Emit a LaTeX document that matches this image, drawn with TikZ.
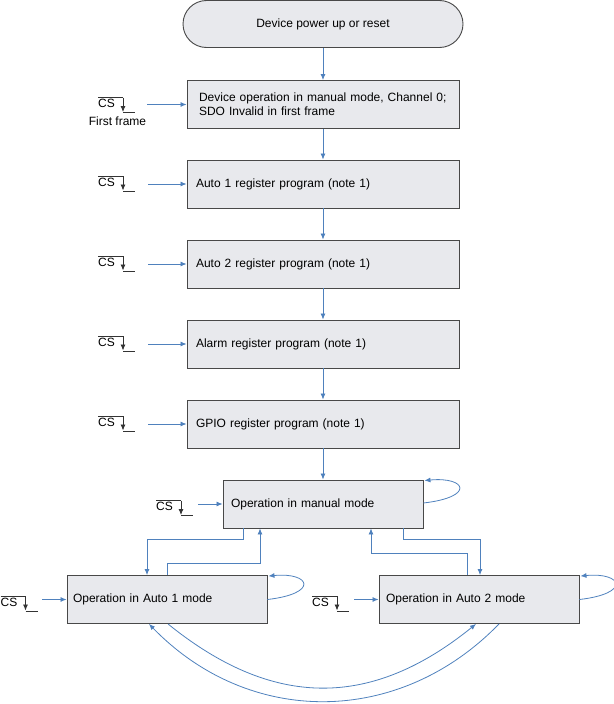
\documentclass[tikz,border=0pt]{standalone}
\usepackage{fontspec}
\setmainfont{Liberation Sans}
\usetikzlibrary{arrows.meta,calc}
\definecolor{flowblue}{RGB}{79,129,189}
\definecolor{boxfill}{RGB}{232,233,237}
\definecolor{boxline}{RGB}{72,72,72}
\tikzset{
	procbox/.style={draw=boxline, line width=0.9pt, fill=boxfill, minimum height=48pt, inner xsep=7pt, text width=#1, align=left, font=\fontsize{12}{14}\selectfont},
	termbox/.style={draw=boxline, line width=0.9pt, fill=boxfill, rounded corners=23.5pt, minimum width=280pt, minimum height=47pt, font=\fontsize{12}{14}\selectfont},
	flow/.style={draw=flowblue, line width=0.8pt, -{Latex[length=6pt,width=5pt]}},
	wave/.style={draw=black!80, line width=0.8pt}
}
% chip select falling edge: #1 = left end of the bar
\newcommand{\csedge}[1]{
	\node[anchor=north west, inner sep=0pt, font=\fontsize{12}{14}\selectfont] at ($(#1)+(0,1.6)$) {CS};
	\draw[wave] (#1) -- ++(25,0);
	\draw[wave, -{Latex[length=6pt,width=5pt]}] ($(#1)+(25,0)$) -- ++(0,14.5);
	\draw[wave] ($(#1)+(25,15)$) -- ++(12,0);
}

\begin{document}
\begin{tikzpicture}[x=1pt, y=-1pt]
		%%%%% START %%%%%
		\useasboundingbox (0,0) rectangle (613,704);
		
		\node[termbox] (start) at (323,24) {Device power up or reset};
		
		\node[procbox=248pt, inner xsep=12pt] (manual0) at (323,104.5) {Device operation in manual mode, Channel 0;\\SDO Invalid in first frame};
		\node[procbox=254pt, inner xsep=9pt] (auto1reg) at (323,184) {Auto 1 register program (note 1)};
		\node[procbox=254pt, inner xsep=9pt] (auto2reg) at (323,264) {Auto 2 register program (note 1)};
		\node[procbox=254pt, inner xsep=9pt] (alarmreg) at (323,344) {Alarm register program (note 1)};
		\node[procbox=254pt, inner xsep=9pt] (gpioreg) at (323,424) {GPIO register program (note 1)};
		
		\node[procbox=184pt, inner xsep=8pt] (manual) at (323,504) {Operation in manual mode};
		\node[procbox=188pt, inner xsep=6pt] (auto1) at (167,599.5) {Operation in Auto 1 mode};
		\node[procbox=186pt] (auto2) at (479,599.5) {Operation in Auto 2 mode};
		
		% chip select inputs
		\csedge{98,97.5}
		\node[font=\fontsize{12}{14}\selectfont, inner sep=0pt] (first) at (117.5,121) {First frame};
		\csedge{98,176}
		\csedge{98,256}
		\csedge{98,336}
		\csedge{98,416}
		\csedge{156,500.5}
		\csedge{0.5,596}
		\csedge{312,596}
		
		\coordinate (cs0) at (147,104.5);
		\coordinate (cs1) at (148,184);
		\coordinate (cs2) at (148,264);
		\coordinate (cs3) at (148,344);
		\coordinate (cs4) at (148,424);
		\coordinate (csm) at (198,504);
		\coordinate (csa) at (42,599.5);
		\coordinate (csb) at (354,599.5);
		
		\draw[flow] (cs0) -- (manual0);
		\draw[flow] (cs1) -- (auto1reg);
		\draw[flow] (cs2) -- (auto2reg);
		\draw[flow] (cs3) -- (alarmreg);
		\draw[flow] (cs4) -- (gpioreg);
		\draw[flow] (csm) -- (manual);
		\draw[flow] (csa) -- (auto1);
		\draw[flow] (csb) -- (auto2);
		
		% main chain
		\draw[flow] (start) -- (manual0);
		\draw[flow] (manual0) -- (auto1reg);
		\draw[flow] (auto1reg) -- (auto2reg);
		\draw[flow] (auto2reg) -- (alarmreg);
		\draw[flow] (alarmreg) -- (gpioreg);
		\draw[flow] (gpioreg) -- (manual);
		
		% mode changes
		\draw[flow] ($(manual.south)+(-80,0)$) -- ++(0,11) -| ($(auto1.north)+(-20,0)$);
		\draw[flow] (auto1.north) -- ++(0,-12) -| ($(manual.south)+(-63,0)$);
		\draw[flow] ($(manual.south)+(80,0)$) -- ++(0,11) -| ($(auto2.north)+(1,0)$);
		\draw[flow] ($(auto2.north)+(-12,0)$) -- ++(0,-22) -| ($(manual.south)+(48,0)$);
		
		% stay in same mode
		\draw[flow] ($(manual.east)+(0,-1)$) .. controls +(52,-6) and +(42,-4) .. ($(manual.north east)+(1,1)$);
		\draw[flow] (auto1.east) .. controls +(52,-6) and +(42,-4) .. ($(auto1.north east)+(1,1)$);
		\draw[flow] (auto2.east) .. controls +(52,-6) and +(42,-4) .. ($(auto2.north east)+(1,1)$);
		
		\draw[flow] ($(auto1.south)+(1,0)$) .. controls +(105,85) and +(-105,85) .. ($(auto2.south)+(-3,0)$);
		\draw[flow] ($(auto2.south)+(20,0)$) .. controls +(-100,103) and +(100,103) .. ($(auto1.south)+(-18,0)$);
		
		%%%%% END %%%%%
\end{tikzpicture}
\end{document}
